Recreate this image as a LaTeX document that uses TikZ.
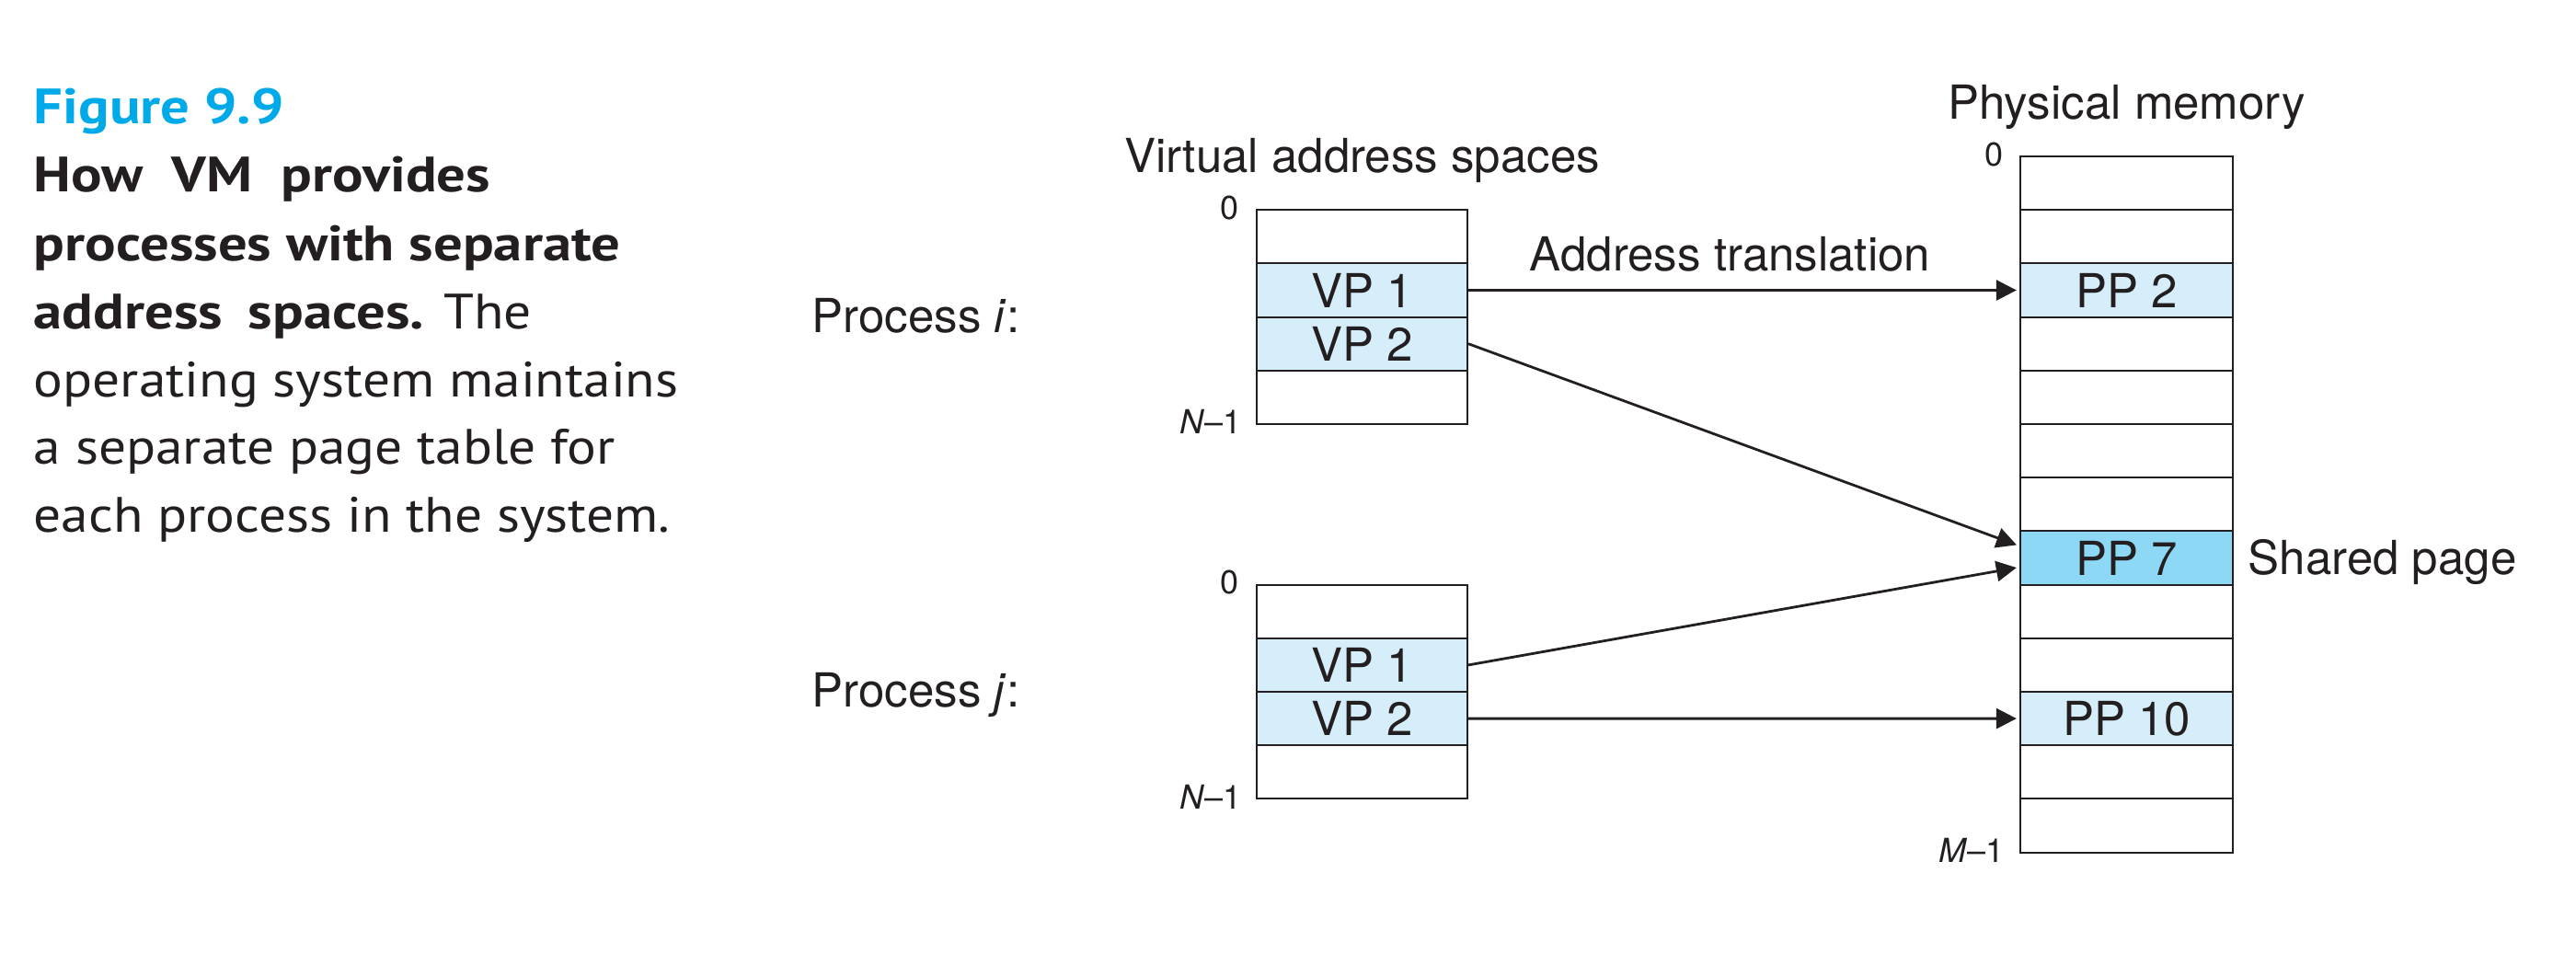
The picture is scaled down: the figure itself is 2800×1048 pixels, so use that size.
\documentclass[tikz,border=0pt]{standalone}
\usepackage{fontspec}
\setmainfont{TeX Gyre Heros}
\newfontfamily\capfont[FakeStretch=1.10]{PT Sans}
\newfontfamily\capbfont[FakeStretch=1.16]{PT Sans}
\usetikzlibrary{arrows.meta,calc}
\definecolor{figblue}{RGB}{0,170,232}
\definecolor{vplight}{RGB}{214,238,250}
\definecolor{ppdark}{RGB}{140,216,245}
\definecolor{ink}{RGB}{35,31,32}
\begin{document}
\begin{tikzpicture}[x=0.25pt,y=-0.25pt,
  vcell/.style={draw=ink, line width=0.5pt, minimum width=57.25pt, minimum height=14.55pt,
    inner sep=0pt, font=\fontsize{12.75}{14}\selectfont, text=ink},
  pcell/.style={vcell, minimum width=57.75pt},
  lbl/.style={font=\fontsize{12.75}{14}\selectfont, text=ink, inner sep=0pt},
  small/.style={font=\fontsize{9}{10}\selectfont, text=ink, inner sep=0pt},
  capline/.style={font=\capfont\fontsize{13.5}{18.5}\selectfont, text=ink, inner sep=0pt, anchor=base west},
  capbold/.style={capline, font=\capbfont\bfseries\fontsize{13.5}{18.5}\selectfont},
  arr/.style={draw=ink, line width=0.7pt, -{Triangle[length=5.5pt,width=5.5pt]}, shorten >=0.8pt}
]
\useasboundingbox (0,0) rectangle (2800,1048);

% caption
\node[capbold, text=figblue] (fig) at (36,135) {Figure 9.9};
\node[capbold] (c1) at (36,209) {How\hspace{3.8pt} VM\hspace{3.8pt} provides};
\node[capbold] (c2) at (36,283) {processes with separate};
\node[capline] (c3) at (36,357) {{\capbfont\bfseries address\hspace{3pt} spaces.} The};
\node[capline] (c4) at (36,431) {operating system maintains};
\node[capline] (c5) at (36,504) {a separate page table for};
\node[capline] (c6) at (36,578) {each process in the system.};

% physical memory
\foreach \k in {0,1,3,4,5,6,8,9,11,12}
  \node[pcell] (p\k) at (2311.5,{170+58.2*(\k+0.5)}) {};
\node[pcell, fill=vplight] (p2) at (2311.5,{170+58.2*2.5}) {PP 2};
\node[pcell, fill=ppdark] (p7) at (2311.5,{170+58.2*7.5}) {PP 7};
\node[pcell, fill=vplight] (p10) at (2311.5,{170+58.2*10.5}) {PP 10};

% virtual i
\foreach \k in {0,3}
  \node[vcell] (vi\k) at (1480.5,{228.2+58.2*(\k+0.5)}) {};
\node[vcell, fill=vplight] (vi1) at (1480.5,{228.2+58.2*1.5}) {VP 1};
\node[vcell, fill=vplight] (vi2) at (1480.5,{228.2+58.2*2.5}) {VP 2};

% virtual j
\foreach \k in {0,3}
  \node[vcell] (vj\k) at (1480.5,{635.6+58.2*(\k+0.5)}) {};
\node[vcell, fill=vplight] (vj1) at (1480.5,{635.6+58.2*1.5}) {VP 1};
\node[vcell, fill=vplight] (vj2) at (1480.5,{635.6+58.2*2.5}) {VP 2};

% labels
\node[lbl, anchor=base] (pmt) at (2311.5,130) {Physical memory};
\node[lbl, anchor=base] (vat) at (1480.5,188) {Virtual address spaces};
\node[lbl, anchor=base west] (addr) at (1662,294) {Address translation};
\node[lbl, anchor=base west] (proci) at (882,361) {Process \textit{i}:};
\node[lbl, anchor=base west] (procj) at (882,768) {Process \textit{j}:};
\node[lbl, anchor=base west] (shared) at (2443,624) {Shared page};

\node[small, anchor=east] (pz) at (2178,168) {0};
\node[small, anchor=east] (pm) at (2179,924) {\textit{M}--1};
\node[small, anchor=east] (viz) at (1347,226) {0};
\node[small, anchor=east] (vin) at (1350,458) {\textit{N}--1};
\node[small, anchor=east] (vjz) at (1347,633) {0};
\node[small, anchor=east] (vjn) at (1350,866) {\textit{N}--1};

% arrows
\coordinate (t1) at ($(p7.west)+(0,-13)$);
\coordinate (t2) at ($(p7.west)+(0,10)$);
\draw[arr] (vi1.east) -- (p2.west);
\draw[arr] (vi2.east) -- (t1);
\draw[arr] (vj1.east) -- (t2);
\draw[arr] (vj2.east) -- (p10.west);
\end{tikzpicture}
\end{document}
